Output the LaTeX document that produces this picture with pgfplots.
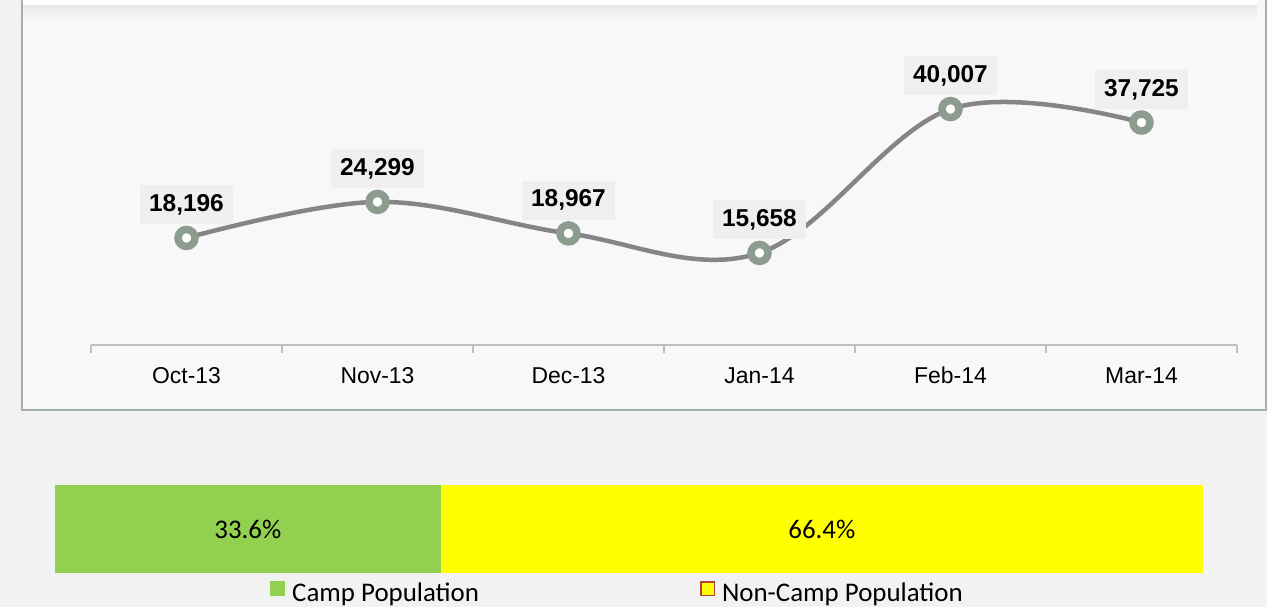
\documentclass[border=0pt]{standalone}
\usepackage{pgfplots}
\pgfplotsset{compat=1.18}
\usepackage{fontspec}
\setmainfont{Liberation Sans}
\newfontfamily\carlito{Carlito}
\definecolor{outerbg}{HTML}{F2F2F2}
\definecolor{panelbg}{HTML}{F8F8F8}
\definecolor{panelborder}{HTML}{A3B2A5}
\definecolor{linegray}{HTML}{858585}
\definecolor{markgreen}{HTML}{8C9C8E}
\definecolor{labelbg}{HTML}{EFEFEF}
\definecolor{axisgray}{HTML}{BFBFBF}
\definecolor{campgreen}{HTML}{92D050}
\definecolor{noncamp}{HTML}{FFFF00}
\definecolor{legendred}{HTML}{B0413E}
\pgfplotstableread{
x y
0 18196
1 24299
2 18967
3 15658
4 40007
5 37725
}\monthly
\begin{document}
\begin{tikzpicture}
\useasboundingbox (0bp,0bp) rectangle (1267bp,607bp);
\fill[outerbg] (0bp,0bp) rectangle (1267bp,607bp);
\fill[panelbg] (22bp,197bp) rectangle (1266bp,610bp);
\draw[panelborder, line width=2bp] (22bp,612bp) -- (22bp,197bp) -- (1266bp,197bp) -- (1266bp,612bp);
\shade[top color=black!9, bottom color=panelbg] (23bp,602bp) rectangle (1257bp,587bp);
\fill[white] (23bp,602bp) rectangle (1257bp,610bp);

\begin{axis}[
  at={(91bp,261.5bp)}, anchor=south west,
  scale only axis, width=1146bp, height=295.5bp,
  xmin=-0.5, xmax=5.5, ymin=0, ymax=50000,
  axis x line*=bottom, axis y line=none,
  axis line style={axisgray, line width=2bp},
  xtick={0,1,2,3,4,5},
  xticklabels={Oct-13,Nov-13,Dec-13,Jan-14,Feb-14,Mar-14},
  major tick length=0pt,
  minor xtick={-0.5,0.5,1.5,2.5,3.5,4.5,5.5},
  minor tick length=7.5bp, tick align=outside,
  minor tick style={axisgray, line width=2bp},
  typeset ticklabels with strut,
  xticklabel style={font=\fontsize{23}{27}\selectfont, yshift=-16bp},
  clip=false,
]
\addplot[color=linegray, line width=4.5bp, smooth, tension=0.6,
  mark=*, mark size=8.5bp,
  mark options={draw=markgreen, fill=white, line width=7.5bp},
  point meta=y,
  nodes near coords={\pgfmathprintnumber[fixed,precision=0,1000 sep={,},assume math mode=true]{\pgfplotspointmeta}},
  every node near coord/.append style={fill=labelbg, text=black, draw=none,
    font=\bfseries\fontsize{24.5}{28}\selectfont, inner xsep=9bp, inner ysep=9bp,
    anchor=south, yshift=10bp}]
  table[x=x,y=y] {\monthly};
\end{axis}

\begin{axis}[
  at={(55bp,34bp)}, anchor=south west,
  scale only axis, width=1148bp, height=88bp,
  xmin=0, xmax=100, ymin=-0.5, ymax=0.5,
  xbar stacked, bar width=88bp,
  hide axis,
  clip=false,
  legend columns=2,
  legend cell align=left,
  legend style={at={(axis description cs:0.18728,-0.089)}, anchor=north west,
    draw=none, fill=none, inner sep=0pt,
    font=\carlito\fontsize{27}{32}\selectfont,
    nodes={inner sep=0pt},
    /tikz/every odd column/.append style={column sep=7bp},
    /tikz/every even column/.append style={column sep=221bp}},
]
\addplot[fill=campgreen, draw=none,
  legend image code/.code={\fill[campgreen] (0bp,-3.5bp) rectangle (15bp,11.5bp);}]
  coordinates {(33.6,0)};
\addlegendentry{Camp Population}
\addplot[fill=noncamp, draw=none,
  legend image code/.code={\draw[fill=noncamp, draw=legendred, line width=1.5bp] (0.75bp,-2.75bp) rectangle (14.25bp,10.75bp);}]
  coordinates {(66.4,0)};
\addlegendentry{Non-Camp Population}
\end{axis}

\begin{axis}[
  at={(55bp,34bp)}, anchor=south west,
  scale only axis, width=1148bp, height=88bp,
  xmin=0, xmax=100, ymin=-0.5, ymax=0.5,
  hide axis, clip=false,
]
\addplot[only marks, mark=none, point meta=explicit symbolic,
  nodes near coords,
  every node near coord/.append style={anchor=center, text=black,
    font=\carlito\fontsize{27}{32}\selectfont}]
  coordinates {(16.8,0) [33.6\%] (66.8,0) [66.4\%]};
\end{axis}
\end{tikzpicture}
\end{document}
